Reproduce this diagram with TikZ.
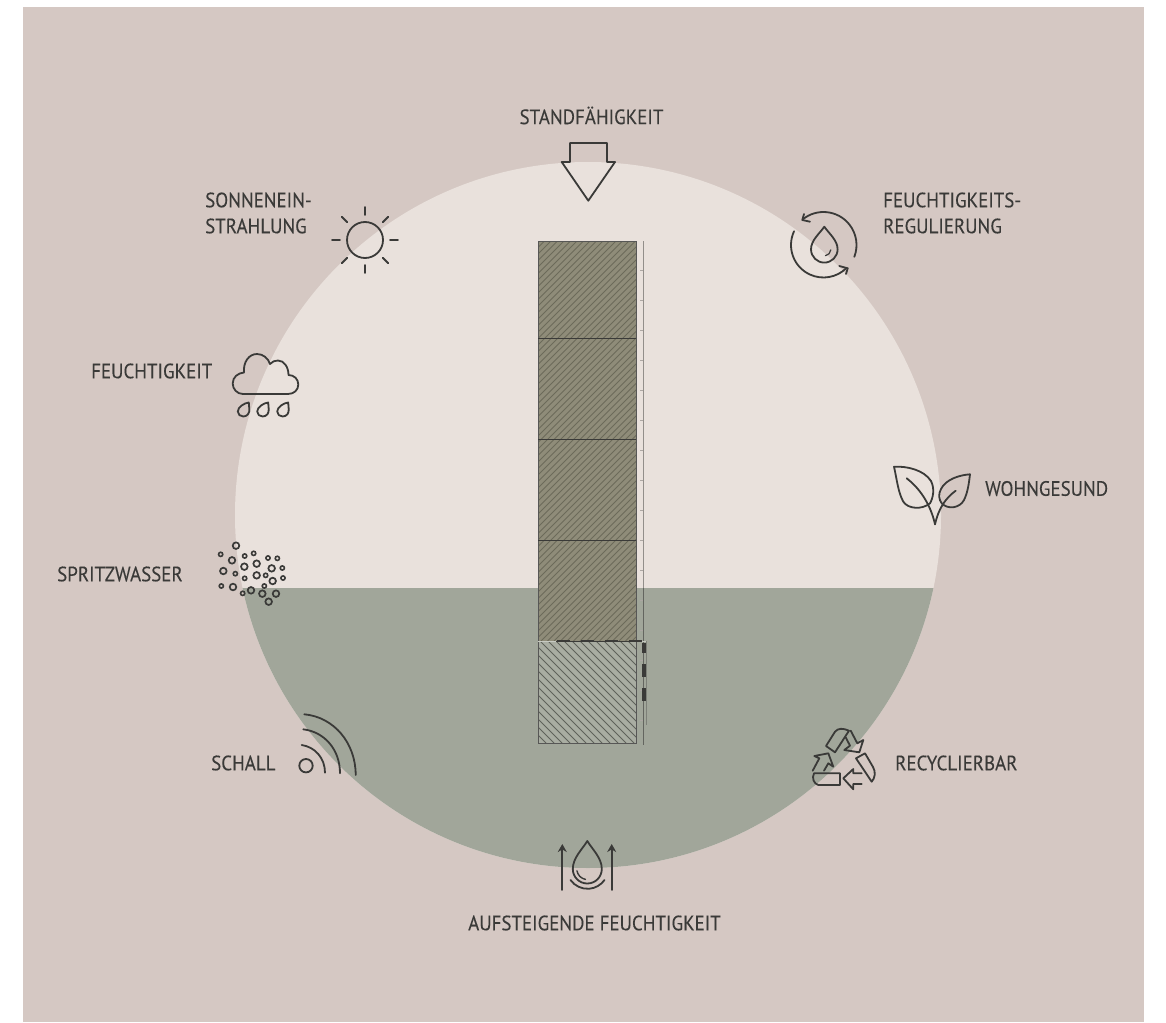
\documentclass[tikz,border=0pt]{standalone}
\usepackage{fontspec}
\setmainfont{PT Sans}
\newfontfamily\lblfont[FakeBold=0.12,FakeStretch=0.91]{PT Sans}
\usetikzlibrary{positioning,calc,arrows.meta}
\tikzset{>=stealth}
\definecolor{bgrose}{HTML}{D5C8C3}
\definecolor{lightdisc}{HTML}{E9E1DC}
\definecolor{sagegreen}{HTML}{A1A69A}
\definecolor{wallbrown}{HTML}{8F8C79}
\definecolor{wallstripe}{HTML}{6C6A5A}
\definecolor{soilbase}{HTML}{A9ADA2}
\definecolor{soilstripe}{HTML}{5F625A}
\definecolor{inkdark}{HTML}{3A3A38}
\tikzset{
  lbl/.style={text=inkdark,font=\lblfont\fontsize{20.8}{26}\selectfont,align=left,inner sep=0pt},
  icon/.style={draw=inkdark,line width=1.8pt,line cap=round,line join=round}
}
% cx, cy of the round part, radius, height of the tip
\newcommand*{\waterdrop}[4]{
  \draw[icon] (#1,#2-#4) .. controls (#1-.35*#3,#2-.7*#4) and (#1-#3,#2-.4*#4) .. (#1-#3,#2)
    arc[start angle=180,end angle=0,radius=#3]
    .. controls (#1+#3,#2-.4*#4) and (#1+.35*#3,#2-.7*#4) .. cycle;
}
\begin{document}
\begin{tikzpicture}[x=1pt,y=-1pt]
\useasboundingbox (0,0) rectangle (1166,1022);
\fill[bgrose] (23,7) rectangle (1144,1022);
\coordinate (M) at (588,515);
\fill[lightdisc] (M) circle[radius=353];
\begin{scope}
\clip (0,588) rectangle (1166,1022);
\fill[sagegreen] (M) circle[radius=353];
\end{scope}
% wall
\fill[wallbrown] (538,241) rectangle (636,641);
\begin{scope}
\clip (538,241) rectangle (636,641);
\foreach \k in {138,144.5,...,640}
  \draw[wallstripe,line width=1pt] (\k,641) -- ++(400,-400);
\end{scope}
\fill[soilbase] (538,641) rectangle (636,743);
\begin{scope}
\clip (538,641) rectangle (636,743);
\foreach \k in {436,444,...,640}
  \draw[soilstripe,line width=1pt] (\k,641) -- ++(102,102);
\end{scope}
\draw[inkdark!85!white,line width=.9pt] (538,241) rectangle (636,743);
\foreach \y in {338,439,540}
  \draw[inkdark,line width=1pt] (538,\y) -- (636,\y);
% scale beside the wall
\draw[inkdark!50!lightdisc,line width=1.4pt] (643.5,241) -- (643.5,588);
\draw[inkdark!60!sagegreen,line width=1.4pt] (643.5,588) -- (643.5,745);
\draw[inkdark!35!sagegreen,line width=1pt] (646,641) -- (646,725);
\foreach \y in {270,300,...,720}
  \draw[inkdark!35!lightdisc,line width=.5pt] (640,\y) -- (643,\y);
\draw[sagegreen!60!white,line width=1pt] (538,641) -- (646,641);
\draw[inkdark,line width=1pt] (556,641) -- (642,641);
\draw[inkdark,line width=2.6pt,dash pattern=on 13pt off 11pt] (557,641) -- (642,641);
\draw[inkdark,line width=3.2pt,dash pattern=on 13pt off 11pt,dash phase=3pt] (644,643) -- (644,702);
% standfaehigkeit
\draw[icon] (570,162) -- (570,143) -- (607,143) -- (607,162) -- (615,162) -- (588.3,200.7) -- (561.7,162) -- cycle;
\node[lbl,anchor=center] (standtxt) at (591.5,115.5) {STANDFÄHIGKEIT};
% sun
\draw[icon] (365,240) circle[radius=18];
\foreach \a in {0,45,...,315}
  \draw[icon] ($(365,240)+(\a:25)$) -- ($(365,240)+(\a:33)$);
\node[lbl,anchor=west] (sonnetxt) at (205,213) {SONNENEIN-\\STRAHLUNG};
% feuchtigkeitsregulierung
\draw[icon] (823.5,245) ++(-129:33) arc[start angle=-129,end angle=21,radius=33];
\draw[icon] (823.5,245) ++(205:32.5) arc[start angle=205,end angle=45,radius=32.5];
\draw[icon] (804,214) -- (802.3,220) -- (810,221.7);
\draw[icon] (839.3,266) -- (847.7,268.3) -- (846,274);
\waterdrop{824.3}{249.3}{13.3}{22.6}
\draw[icon,line width=1.2pt] (824.3,249.3) ++(80:6.5) arc[start angle=80,end angle=5,radius=6.5];
\node[lbl,anchor=west] (regtxt) at (883,213) {FEUCHTIGKEITS-\\REGULIERUNG};
% feuchtigkeit
\draw[icon] (243,394) .. controls (237,394) and (232.7,389) .. (232.7,383.5)
  .. controls (232.7,377) and (238,373) .. (244,372.5)
  .. controls (243,362) and (249,354) .. (257,354)
  .. controls (263,354) and (268,358) .. (270,364)
  .. controls (272,361.5) and (275,360.5) .. (278,360.5)
  .. controls (284,360.5) and (288.5,367) .. (288.5,375)
  .. controls (294,375) and (298.3,379) .. (298.3,384.5)
  .. controls (298.3,390) and (294,394) .. (288,394) -- cycle;
\foreach \x in {243.3,262.7,282.7}
  \draw[icon] (\x+5.5,402.5) .. controls (\x+1,403) and (\x-5.5,407) .. (\x-5.5,411.5)
    .. controls (\x-5.5,414.5) and (\x-3,416.5) .. (\x,416.5)
    .. controls (\x+4,416.5) and (\x+6.5,413) .. (\x+6,409) -- cycle;
\node[lbl,anchor=west] (feuchttxt) at (91,371) {FEUCHTIGKEIT};
% wohngesund
\draw[icon] (894,466.7) .. controls (907,466) and (924,470) .. (931,481)
  .. controls (935,489) and (933,498) .. (930,503.3)
  .. controls (922,510) and (908,509) .. (903.3,501.7)
  .. controls (898,492) and (897,480) .. cycle;
\draw[icon] (906.7,478.3) .. controls (918,487) and (930,502) .. (935,524.3);
\draw[icon] (970,474.3) .. controls (960,475) and (946,479) .. (941,489)
  .. controls (938,494) and (939,500) .. (941.7,503.3)
  .. controls (948,510) and (960,508) .. (964,500)
  .. controls (968,492) and (969,482) .. cycle;
\draw[icon] (955.7,490.7) .. controls (946,498) and (939,507) .. (935,524.3);
\node[lbl,anchor=west] (wohntxt) at (985,488.5) {WOHNGESUND};
% spritzwasser
\foreach \x/\y in {78/32,66/76,40/108,103/95,140/86,185/100,140/121,188/138,69/156,123/166,157/176,198/176,176/200}
  \draw[inkdark,line width=1.7pt] (210+\x/3,535+\y/3) circle[radius=3.3];
\foreach \x/\y in {32/58,104/63,131/55,174/69,202/70,76/116,217/99,104/130,167/121,219/129,34/153,98/175,163/153}
  \draw[inkdark,line width=1.6pt] (210+\x/3,535+\y/3) circle[radius=2.1];
\node[lbl,anchor=west] (spritztxt) at (57,574) {SPRITZWASSER};
% schall
\draw[icon] (306,765.7) circle[radius=6.7];
\draw[icon] (301.7,745) .. controls (315,747) and (325,758) .. (325,772.7);
\draw[icon] (303.3,729.3) .. controls (325,732) and (340,750) .. (340,773.3);
\draw[icon] (304.3,714.3) .. controls (334,717) and (355.7,743) .. (355.7,775);
\node[lbl,anchor=west] (schalltxt) at (211,763) {SCHALL};
% recyclierbar
\draw[icon] (826,746) -- (835,731.7) .. controls (838,728) and (843,728) .. (849,730.7) -- (835,752.3) -- cycle;
\draw[icon] (850.7,730.7) -- (857.3,743.3) -- (863.3,740) -- (859.3,752.3) -- (844.3,750) -- (850,745.7) -- (845.7,737.3);
\draw[icon] (812.7,770.7) -- (819.3,758.3) -- (814.3,756) -- (828.3,753.3) -- (833.3,766.7) -- (828.3,763.3) -- (824,770.7);
\draw[icon] (840,773.3) -- (840,785) -- (818.3,785) .. controls (814,784) and (811.5,778) .. (814,773.3) -- cycle;
\draw[icon] (856,758.3) -- (865,753.3) -- (873,767) .. controls (876,772) and (875,778) .. (871.7,781.7) -- cycle;
\draw[icon] (861.7,773.3) -- (853.3,773.3) -- (853.3,769) -- (843.3,778.3) -- (853.3,789.3) -- (853.3,784) -- (861.7,784);
\node[lbl,anchor=west] (recytxt) at (895,763) {RECYCLIERBAR};
% aufsteigende feuchtigkeit
\coordinate (ArrowL) at (562.3,890);
\coordinate (ArrowR) at (611.7,890);
\draw[icon,-{Stealth[length=8pt,width=9pt]}] (ArrowL) -- ++(0,-46);
\draw[icon,-{Stealth[length=8pt,width=9pt]}] (ArrowR) -- ++(0,-46);
\waterdrop{587.3}{869}{14.5}{28}
\draw[icon,line width=1.4pt] (587.3,869) ++(170:10.5) arc[start angle=170,end angle=100,radius=10.5];
\draw[icon] (587.5,868) ++(145:20.8) arc[start angle=145,end angle=35,radius=20.8];
\node[lbl,anchor=center] (risetxt) at (594.5,923) {AUFSTEIGENDE FEUCHTIGKEIT};
\end{tikzpicture}
\end{document}
